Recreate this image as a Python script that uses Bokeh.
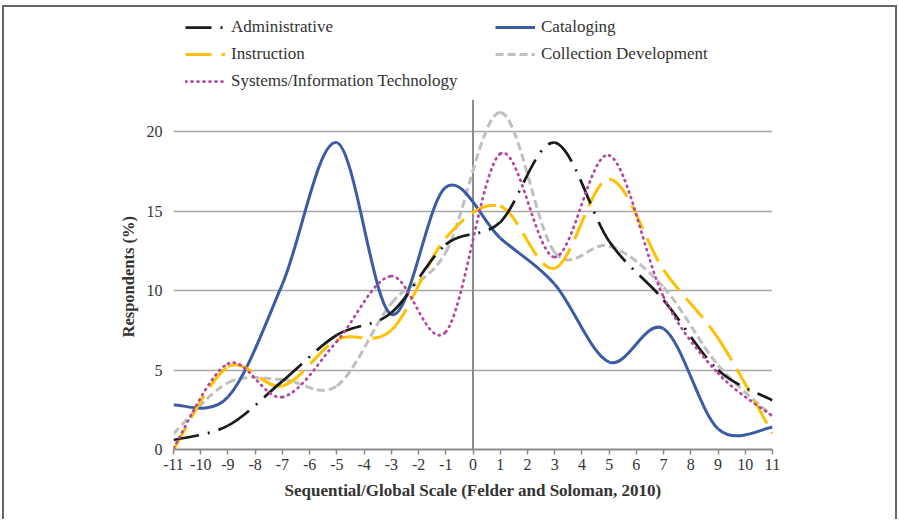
from bokeh.plotting import figure
from bokeh.models import Legend, LegendItem, ColumnDataSource, FixedTicker, Range1d, Title
from bokeh.embed import file_html
from bokeh.resources import INLINE

# ---- data (scores of the Felder-Soloman ILS sequential/global scale) ----
scores = [-11, -9, -7, -5, -3, -1, 1, 3, 5, 7, 9, 11]
administrative = [0.6, 1.5, 4.3, 7.2, 8.6, 12.9, 14.3, 19.3, 13.1, 9.4, 5.0, 3.1]
cataloging = [2.8, 3.3, 10.4, 19.3, 8.5, 16.5, 13.3, 10.4, 5.5, 7.6, 1.3, 1.4]
instruction = [0.0, 5.2, 4.0, 6.9, 7.5, 13.3, 15.3, 11.4, 17.0, 11.3, 7.0, 1.0]
collection_dev = [1.0, 4.2, 4.4, 4.0, 9.2, 12.4, 21.2, 12.4, 12.8, 10.2, 5.3, 2.1]
systems_it = [0.1, 5.4, 3.3, 6.8, 10.9, 7.4, 18.6, 12.1, 18.5, 9.6, 4.8, 2.1]
x_ticks = list(range(-11, 12))
y_ticks = [0, 5, 10, 15, 20]
y_axis_max = 22          # top of the value axis
y_view_max = 27.8        # extra headroom that holds the legend

FONT = "Liberation Serif"
TXT = "#333333"


def smooth_source(xs, ys, t=1.0 / 6.0):
    """Control points of a smoothed (Catmull-Rom style) curve through the data."""
    n = len(xs)
    d = dict(x0=[], y0=[], x1=[], y1=[], cx0=[], cy0=[], cx1=[], cy1=[])
    for i in range(n - 1):
        a = i - 1 if i > 0 else i
        b = i + 2 if i + 2 < n else i + 1
        d["x0"].append(xs[i]); d["y0"].append(ys[i])
        d["x1"].append(xs[i + 1]); d["y1"].append(ys[i + 1])
        d["cx0"].append(xs[i] + (xs[i + 1] - xs[a]) * t)
        d["cy0"].append(ys[i] + (ys[i + 1] - ys[a]) * t)
        d["cx1"].append(xs[i + 1] - (xs[b] - xs[i]) * t)
        d["cy1"].append(ys[i + 1] - (ys[b] - ys[i]) * t)
    return ColumnDataSource(d)


p = figure(width=895, height=514, output_backend="svg", toolbar_location=None,
           x_range=Range1d(-11, 11), y_range=Range1d(0, y_view_max),
           min_border_left=169, min_border_right=127, min_border_top=0, min_border_bottom=72,
           styles={"margin": "5px 0 0 2px", "border": "2px solid #666666", "border-bottom": "none"})
p.outline_line_color = None
p.background_fill_color = "white"
p.border_fill_color = "white"

# axes
p.xaxis.ticker = FixedTicker(ticks=x_ticks)
p.yaxis.ticker = FixedTicker(ticks=y_ticks)
p.xaxis.major_label_overrides = {t: str(t) for t in x_ticks}
p.xaxis.axis_label = "Sequential/Global Scale (Felder and Soloman, 2010)"
for ax in (p.xaxis[0], p.yaxis[0]):
    ax.axis_label_text_font = FONT
    ax.axis_label_text_font_style = "bold"
    ax.axis_label_text_font_size = "17px"
    ax.axis_label_text_color = TXT
    ax.major_label_text_font = FONT
    ax.major_label_text_font_size = "16px"
    ax.major_label_text_color = TXT
    ax.minor_tick_line_color = None
p.xaxis.axis_line_color = "#8c8c8c"
p.xaxis.axis_line_width = 2
p.xaxis.major_tick_line_color = "#8c8c8c"
p.xaxis.major_tick_line_width = 1.5
p.xaxis.major_tick_out = 5
p.xaxis.major_tick_in = 0
p.xaxis.major_label_standoff = 4
p.xaxis.axis_label_standoff = 8
p.yaxis.axis_line_color = None
p.yaxis.major_tick_line_color = None
p.yaxis.major_tick_out = 0
p.yaxis.major_tick_in = 0
p.yaxis.major_label_standoff = 11

# y-axis title, centred on the 0..22 value span (not on the legend headroom)
ytitle = Title(text="Respondents (%)", align="left", offset=112,
               text_font=FONT, text_font_style="bold", text_font_size="16.5px",
               text_color=TXT, standoff=12)
p.add_layout(ytitle, "left")

p.xgrid.grid_line_color = None
p.ygrid.grid_line_color = "#a6a6a6"
p.ygrid.grid_line_width = 1.5

# vertical value axis crossing at 0
p.segment(x0=[0], y0=[0], x1=[0], y1=[y_axis_max], line_color="#8c8c8c", line_width=2)

series = [
    ("Collection Development", collection_dev, "#bfbfbf", "8 4", "butt", 3),
    ("Cataloging", cataloging, "#3b5ba5", "solid", "butt", 3),
    ("Instruction", instruction, "#ffc000", "26 10", "butt", 3),
    ("Administrative", administrative, "#1a1a1a", "26 9 2 9", "butt", 2.75),
    ("Systems/Information Technology", systems_it, "#b4479f", "1 5", "round", 2.75),
]
rend = {}
for name, ys, col, dash, cap, w in series:
    src = smooth_source(scores, ys)
    r = p.bezier(x0="x0", y0="y0", x1="x1", y1="y1", cx0="cx0", cy0="cy0", cx1="cx1", cy1="cy1",
                 source=src, line_color=col, line_width=w, line_dash=dash, line_cap=cap)
    rend[name] = r


def make_legend(names, loc):
    lg = Legend(items=[LegendItem(label=n, renderers=[rend[n]]) for n in names],
                location=loc, orientation="vertical")
    lg.label_text_font = FONT
    lg.label_text_font_size = "17px"
    lg.label_text_color = TXT
    lg.glyph_width = 40
    lg.glyph_height = 20
    lg.label_height = 20
    lg.label_standoff = 6
    lg.spacing = 7
    lg.padding = 0
    lg.margin = 0
    lg.border_line_color = None
    lg.background_fill_alpha = 0
    return lg


p.add_layout(make_legend(["Administrative", "Instruction", "Systems/Information Technology"], (12, 358)))
p.add_layout(make_legend(["Cataloging", "Collection Development"], (322, 385)))

open("out.html", "w").write(file_html(p, INLINE))
